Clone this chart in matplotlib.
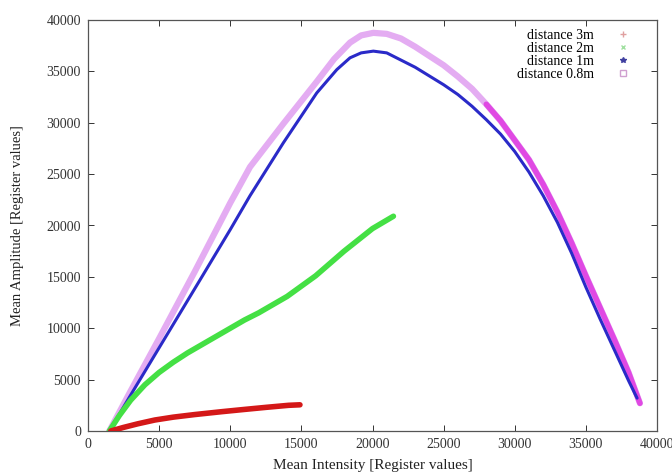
import matplotlib
matplotlib.use("Agg")
import matplotlib.pyplot as plt
from matplotlib.lines import Line2D

plt.rcParams['font.family'] = ['Liberation Serif', 'DejaVu Serif']

# ---- data ----
labels = ["distance 3m", "distance 2m", "distance 1m", "distance 0.8m"]

d3_x = [1600, 2500, 3500, 4700, 6000, 7500, 9400, 11000, 12500, 14100, 14900]
d3_y = [0, 350, 700, 1070, 1350, 1600, 1880, 2100, 2300, 2500, 2550]

d2_x = [1500, 2200, 3000, 4000, 5000, 6000, 7000, 8000, 9000, 10000, 11000,
        12000, 13000, 14000, 15000, 16000, 17000, 18000, 19000, 20000, 21470]
d2_y = [0, 1500, 3000, 4500, 5700, 6700, 7600, 8400, 9200, 10000, 10800,
        11500, 12300, 13100, 14100, 15100, 16300, 17500, 18600, 19700, 20900]

d1_x = [1500, 3000, 5000, 7700, 10000, 11390, 13730, 16080, 17490, 18420, 19200,
        20060, 21000, 22000, 23000, 24000, 25000, 26000, 27000, 28000, 29000,
        30000, 31000, 32000, 33000, 34000, 35000, 36000, 37000, 38000, 38600]
d1_y = [0, 3500, 8100, 14300, 19600, 22900, 28040, 32900, 35170, 36320, 36800,
        36970, 36800, 36100, 35400, 34550, 33700, 32750, 31600, 30300, 28900,
        27200, 25200, 22900, 20300, 17300, 14000, 10900, 7900, 4900, 3200]

d08_x = [1500, 3000, 5000, 7500, 10000, 11390, 13730, 16080, 17300, 18420, 19200,
         20060, 21000, 22000, 23000, 24000, 25000, 26000, 27000, 28000, 29000,
         30000, 31000, 32000, 33000, 34000, 35000, 36000, 37000, 38000, 38800]
d08_y = [0, 3900, 9000, 15500, 22200, 25700, 29900, 34000, 36200, 37800, 38500,
         38750, 38650, 38200, 37400, 36500, 35600, 34500, 33300, 31800, 30200,
         28300, 26400, 24000, 21300, 18300, 15100, 12000, 8900, 5700, 2700]

x_ticks = [0, 5000, 10000, 15000, 20000, 25000, 30000, 35000, 40000]
y_ticks = [0, 5000, 10000, 15000, 20000, 25000, 30000, 35000, 40000]

# ---- figure ----
fig = plt.figure(figsize=(6.72, 4.73), dpi=100)
ax = fig.add_axes([88/672, 42/473, 569/672, 411/473])

# 0.8m: light violet band, darker magenta on the falling tail
ax.plot(d08_x, d08_y, color="#e4acf2", lw=4.5, solid_capstyle='round', zorder=2)
tail = [i for i, v in enumerate(d08_x) if v >= 28000]
ax.plot([d08_x[i] for i in tail], [d08_y[i] for i in tail], color="#e030e0",
        lw=4.0, solid_capstyle='round', zorder=3, alpha=0.8)

ax.plot(d1_x, d1_y, color="#2a2ac8", lw=2.2, solid_capstyle='round', zorder=4)
ax.plot(d2_x, d2_y, color="#44e044", lw=4.0, solid_capstyle='round', zorder=4)
ax.plot(d3_x, d3_y, color="#d41818", lw=4.0, solid_capstyle='round', zorder=4)

ax.set_xlim(0, 40000)
ax.set_ylim(0, 40000)
ax.set_xticks(x_ticks)
ax.set_yticks(y_ticks)
ax.tick_params(direction='in', length=4, width=0.7, top=True, right=True,
               labelsize=10, colors="#333333", pad=5)
for s in ax.spines.values():
    s.set_color("#555555")
    s.set_linewidth(0.9)

ax.set_xlabel("Mean Intensity [Register values]", fontsize=11, color="#222222",
              va='center')
ax.set_ylabel("Mean Amplitude [Register values]", fontsize=10.5, color="#222222",
              va='center')
ax.xaxis.set_label_coords(0.5, (431 - 465) / 411)
ax.yaxis.set_label_coords((18 - 88) / 569, 0.5)

handles = [
    Line2D([], [], ls='none', marker='+', color="#e0a0a0", ms=4),
    Line2D([], [], ls='none', marker='x', color="#a0e0a0", ms=3),
    Line2D([], [], ls='none', marker='*', color="#4040a0", ms=4),
    Line2D([], [], ls='none', marker='s', mfc='none', mec="#d0a0d0", ms=4),
]
ax.legend(handles, labels, loc='upper right', bbox_to_anchor=(0.952, 0.978),
          frameon=False, markerfirst=False, fontsize=10, labelspacing=0.0,
          handlelength=1.0, handletextpad=1.6, borderpad=0, borderaxespad=0)

fig.savefig("out.png", dpi=100)
